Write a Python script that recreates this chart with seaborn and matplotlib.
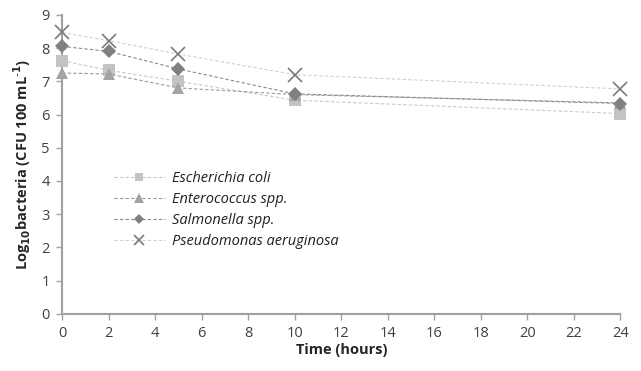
import numpy as np
import pandas as pd
import matplotlib.pyplot as plt
import seaborn as sns

# Survival of bacteria over time
time_hours = [0, 2, 5, 10, 24]
species = ['Escherichia coli', 'Enterococcus spp.', 'Salmonella spp.', 'Pseudomonas aeruginosa']
e_coli = [7.62, 7.33, 7.0, 6.43, 6.03]
enterococcus = [7.25, 7.22, 6.8, 6.6, 6.35]
salmonella = [8.05, 7.9, 7.37, 6.62, 6.33]
pseudomonas = [8.47, 8.22, 7.82, 7.2, 6.77]

df = pd.DataFrame({
    'Time': time_hours * 4,
    'Log': e_coli + enterococcus + salmonella + pseudomonas,
    'Species': np.repeat(species, len(time_hours)),
})

sns.set_style('ticks')
plt.rcParams['font.family'] = ['Open Sans', 'DejaVu Sans']

palette = {'Escherichia coli': '#c3c3c3', 'Enterococcus spp.': '#a3a3a3',
           'Salmonella spp.': '#808080', 'Pseudomonas aeruginosa': '#7a7a7a'}
line_colors = {'Escherichia coli': '#c8c8c8', 'Enterococcus spp.': '#9a9a9a',
               'Salmonella spp.': '#8a8a8a', 'Pseudomonas aeruginosa': '#d0d0d0'}
markers = {'Escherichia coli': 's', 'Enterococcus spp.': '^',
           'Salmonella spp.': 'D', 'Pseudomonas aeruginosa': 'x'}
sizes = {'Escherichia coli': 8, 'Enterococcus spp.': 9,
         'Salmonella spp.': 7, 'Pseudomonas aeruginosa': 10}

fig = plt.figure(figsize=(6.41, 3.71), dpi=100)
ax = fig.add_axes([0.097, 0.154, 0.871, 0.806])

for sp in species:
    sub = df[df['Species'] == sp]
    sns.lineplot(data=sub, x='Time', y='Log', ax=ax, color=line_colors[sp],
                 linestyle=(0, (3, 2)), linewidth=0.8, label=sp,
                 marker=markers[sp], markersize=sizes[sp],
                 markerfacecolor=palette[sp], markeredgecolor=palette[sp],
                 markeredgewidth=1.2 if sp == 'Pseudomonas aeruginosa' else 0,
                 clip_on=False, zorder=3)

ax.set_xlim(0, 24)
ax.set_ylim(0, 9)
ax.set_xticks(range(0, 25, 2))
ax.set_yticks(range(0, 10))
ax.tick_params(axis='both', colors='#a0a0a0', labelcolor='#404040', labelsize=10.5,
               length=4, width=1, pad=5)
for s in ['top', 'right']:
    ax.spines[s].set_visible(False)
for s in ['left', 'bottom']:
    ax.spines[s].set_color('#a0a0a0')
    ax.spines[s].set_linewidth(1.5)

ax.set_xlabel('Time (hours)', fontsize=10.5, fontweight='bold', labelpad=1)
ax.set_ylabel(r'Log$_{\mathbf{10}}$bacteria (CFU 100 mL$^{\mathbf{\text{-}1}}$)', fontsize=10.5,
              fontweight='bold', labelpad=6)

leg = ax.legend(loc='upper left', bbox_to_anchor=(0.082, 0.497), frameon=False,
                prop={'style': 'italic', 'size': 10.5}, handlelength=3.5,
                labelspacing=0.42, handletextpad=0.5, markerscale=0.75,
                borderaxespad=0)
for t in leg.get_texts():
    t.set_color('#202020')

fig.savefig('out.png', dpi=100)
